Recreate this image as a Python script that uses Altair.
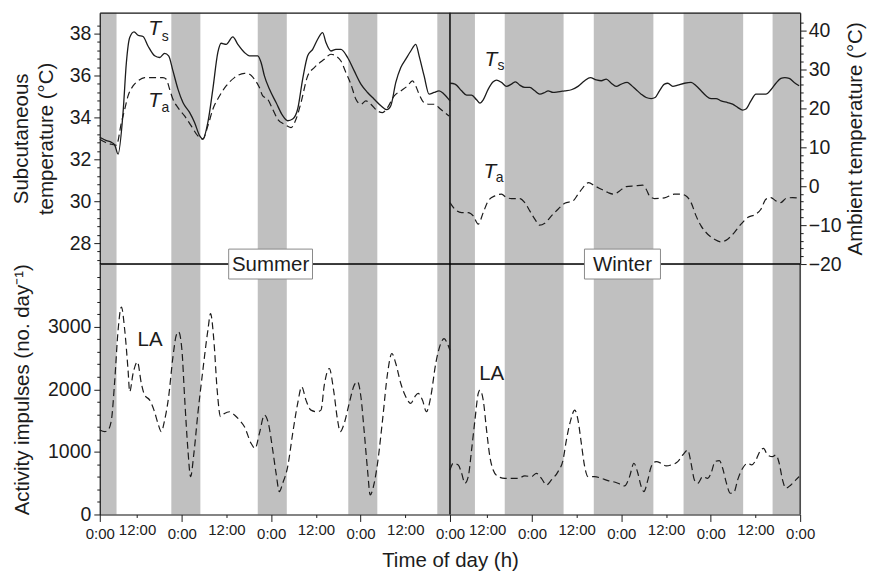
import altair as alt
import pandas as pd

FONT = "Liberation Sans"
INK = "#1c1c1c"
BAND = "#c0c0c0"
W, H_TOP, H_BOT = 702, 252, 251

# ---------------- data (hours on one joined time axis: summer 0-94 h, winter 94-188 h)
night_start = [0, 19.2, 42.4, 66.7, 90.6, 94, 108.7, 132.6, 156.7, 180.6]
night_end = [4.5, 27.0, 50.2, 74.5, 94, 100.7, 124.5, 148.6, 172.7, 188]

ts_summer_h = [0, 1.79, 3.12, 4.02, 4.91, 6.25, 7.14, 8.03, 9.2, 10.27,
               11.61, 12.94, 14.73, 16.07, 17.41, 18.48, 19.64, 20.98, 22.32, 24.1,
               25.44, 26.78, 27.67, 29.01, 30.35, 31.69, 32.58, 33.92, 35.71, 37.05,
               38.83, 40.17, 42.4, 43.3, 44.19, 45.53, 47.32, 49.1, 50.44, 51.78,
               53.12, 54.46, 55.8, 57.14, 58.48, 59.82, 60.71, 62.05, 63.39, 64.73,
               66.52, 68.3, 70.09, 71.87, 73.66, 75.45, 77.05, 78.12, 79.46, 80.8,
               82.14, 83.48, 84.82, 85.72, 87.06, 88.4, 89.74, 91.08, 92.42, 94.0]
ts_summer = [33.05, 32.89, 32.81, 32.68, 32.25, 34.24, 36.62, 37.81, 38.08, 37.92,
             37.86, 37.41, 36.94, 36.86, 37.06, 36.94, 36.22, 35.35, 34.71, 34.24,
             33.76, 33.13, 32.97, 33.76, 35.35, 37.1, 37.54, 37.49, 37.84, 37.49,
             37.1, 36.94, 36.94, 36.62, 35.98, 35.35, 34.71, 34.08, 33.84, 33.92,
             34.4, 35.83, 36.94, 37.25, 37.73, 38.05, 37.57, 37.17, 37.25, 37.25,
             36.86, 36.22, 35.59, 35.19, 34.87, 34.56, 34.37, 34.56, 35.67, 36.38,
             36.78, 37.17, 37.49, 36.94, 35.98, 35.11, 35.19, 35.27, 35.11, 34.79]

ts_winter_h = [94.0, 95.34, 97.13, 98.47, 99.8, 101.14, 102.04, 102.93, 104.27, 105.6,
               106.5, 107.84, 109.18, 110.52, 111.59, 112.75, 114.09, 115.43, 116.77, 118.1,
               119.44, 120.34, 121.67, 123.01, 124.8, 126.58, 128.37, 130.16, 131.67, 133.28,
               134.62, 135.96, 137.3, 138.64, 139.98, 141.58, 142.65, 143.99, 145.33, 146.67,
               148.01, 149.08, 150.24, 151.58, 152.47, 153.81, 155.15, 156.94, 158.72, 160.06,
               161.4, 162.74, 164.08, 165.42, 166.76, 168.54, 169.88, 171.22, 172.56, 173.45,
               174.79, 176.13, 177.47, 178.81, 180.15, 181.49, 182.82, 183.9, 185.06, 186.4,
               187.73]
ts_winter = [35.63, 35.59, 35.27, 35.06, 35.06, 34.84, 34.68, 34.84, 35.35, 35.7,
             35.78, 35.67, 35.48, 35.59, 35.7, 35.54, 35.43, 35.43, 35.27, 35.11,
             35.19, 35.27, 35.19, 35.22, 35.27, 35.32, 35.48, 35.75, 35.9, 35.79,
             35.75, 35.83, 35.63, 35.48, 35.59, 35.67, 35.54, 35.32, 35.11, 34.95,
             34.9, 34.95, 35.27, 35.59, 35.63, 35.48, 35.54, 35.63, 35.67, 35.51,
             35.27, 35.03, 34.9, 34.9, 34.79, 34.71, 34.63, 34.48, 34.35, 34.4,
             34.79, 35.11, 35.11, 35.11, 35.32, 35.63, 35.86, 35.9, 35.86, 35.67,
             35.51]

ta_summer_h = [0, 1.34, 3.12, 4.46, 5.8, 6.7, 7.59, 8.93, 10.27, 12.05,
               14.28, 16.96, 17.85, 18.75, 19.64, 20.98, 22.76, 24.55, 26.33, 27.67,
               29.01, 30.35, 32.14, 33.92, 36.15, 38.83, 40.17, 41.51, 42.85, 43.74,
               45.08, 46.42, 47.76, 49.54, 51.33, 52.67, 54.01, 55.8, 57.58, 60.26,
               62.05, 63.39, 64.73, 66.07, 67.41, 68.75, 70.09, 71.43, 72.77, 74.56,
               75.9, 77.24, 79.03, 80.8, 82.6, 83.92, 84.82, 85.72, 87.06, 88.4,
               89.74, 91.5, 93.74]
ta_summer = [12.02, 11.3, 10.74, 10.5, 16.3, 19.71, 23.13, 25.7, 26.98, 27.83,
             27.83, 27.83, 27.41, 24.84, 22.28, 20.14, 18.0, 15.44, 12.88, 12.02,
             15.44, 19.71, 23.13, 25.7, 27.83, 28.94, 28.69, 27.41, 25.27, 23.13,
             22.28, 19.71, 17.15, 15.87, 15.01, 17.15, 21.42, 28.26, 30.4, 32.53,
             33.82, 33.39, 32.11, 29.12, 26.12, 22.28, 21.0, 21.85, 21.0, 19.29,
             18.85, 20.14, 23.13, 24.41, 25.7, 26.98, 25.7, 23.56, 21.42, 21.0,
             21.0, 19.71, 18.0]

ta_winter_h = [94.0, 95.34, 97.13, 98.91, 100.25, 101.59, 102.93, 104.27, 106.05, 107.84,
               109.18, 110.52, 112.75, 114.09, 115.43, 116.77, 118.1, 119.44, 121.23, 123.01,
               124.8, 127.03, 128.37, 129.71, 131.23, 132.83, 134.62, 136.4, 138.01, 139.53,
               141.31, 143.55, 145.78, 146.67, 147.56, 148.9, 151.58, 154.26, 156.04, 157.38,
               158.72, 160.06, 161.4, 163.18, 164.97, 166.76, 168.54, 170.33, 172.11, 173.9,
               176.13, 177.47, 178.81, 180.15, 181.49, 182.82, 184.16, 185.95, 187.73]
ta_winter = [-4.22, -5.93, -6.78, -6.78, -7.64, -9.77, -6.78, -3.79, -2.51, -2.08,
             -2.94, -3.19, -3.19, -4.22, -6.35, -8.49, -10.03, -9.52, -7.64, -5.93,
             -4.39, -3.79, -2.08, -0.37, 0.91, 0.06, -0.8, -1.65, -2.08, -1.23,
             -0.12, 0.06, 0.23, -0.8, -2.51, -3.19, -3.02, -2.08, -2.08, -2.51,
             -4.22, -7.64, -10.2, -12.34, -13.62, -14.3, -13.62, -11.91, -9.77, -8.06,
             -7.21, -5.93, -3.36, -2.94, -3.79, -4.22, -3.19, -2.94, -3.11]

la_summer_h = [0, 1.34, 2.23, 3.12, 4.02, 4.91, 5.8, 6.7, 7.59, 8.03,
               8.93, 10.09, 11.16, 12.05, 13.39, 14.55, 15.62, 16.51, 17.41, 18.48,
               19.64, 20.53, 21.16, 22.05, 22.76, 23.66, 24.37, 25.26, 26.33, 27.67,
               29.01, 29.73, 30.62, 31.51, 32.41, 33.48, 34.82, 36.15, 37.49, 38.83,
               40.62, 41.69, 42.85, 44.19, 45.26, 46.42, 47.32, 48.21, 49.1, 50.44,
               51.78, 53.12, 54.19, 55.35, 56.69, 58.3, 59.37, 60.26, 61.6, 62.76,
               63.83, 64.54, 65.61, 66.95, 68.3, 69.19, 70.09, 70.98, 71.87, 72.59,
               73.66, 74.56, 75.9, 77.24, 78.4, 79.46, 80.8, 82.14, 83.48, 84.55,
               85.45, 86.61, 87.68, 88.84, 90.18, 91.52, 92.42, 93.31, 94.0]
la_summer = [1349, 1322, 1349, 1508, 2146, 2942, 3314, 2942, 2305, 1960,
             2252, 2438, 2092, 1906, 1827, 1667, 1455, 1322, 1508, 1880,
             2517, 2863, 2916, 2624, 1880, 1030, 605, 977, 1614, 2305,
             2942, 3208, 2783, 1986, 1561, 1614, 1641, 1588, 1508, 1402,
             1136, 1057, 1296, 1588, 1455, 1030, 658, 366, 499, 764,
             1296, 1774, 2039, 1827, 1667, 1641, 1667, 2066, 2332, 1986,
             1508, 1322, 1455, 1774, 2066, 2119, 1880, 1322, 711, 313,
             499, 818, 1508, 2252, 2571, 2411, 2092, 1880, 1774, 1880,
             1933, 1827, 1641, 1880, 2411, 2730, 2810, 2730, 2624]

la_winter_h = [94.0, 94.89, 96.23, 97.13, 98.02, 98.91, 99.8, 100.7, 101.59, 102.04,
               102.93, 103.82, 104.71, 105.6, 106.95, 108.73, 110.52, 112.3, 114.09, 115.87,
               117.21, 118.55, 119.89, 121.23, 123.01, 124.35, 125.25, 126.41, 127.48, 128.37,
               129.26, 130.16, 131.05, 132.83, 134.62, 136.4, 137.74, 139.08, 140.87, 142.21,
               143.37, 144.44, 145.33, 146.05, 147.12, 148.01, 149.35, 150.69, 152.03, 153.37,
               155.15, 156.49, 157.83, 158.72, 159.61, 160.51, 161.85, 163.18, 164.08, 165.15,
               166.31, 167.2, 168.1, 169.26, 170.33, 171.22, 172.56, 173.9, 174.97, 176.13,
               177.29, 178.18, 179.25, 180.59, 181.49, 182.38, 183.27, 184.16, 185.5, 186.84,
               187.73]
la_winter = [711, 818, 791, 658, 499, 605, 1030, 1508, 1933, 1986,
             1827, 1349, 924, 711, 605, 578, 578, 578, 616, 605,
             658, 578, 472, 552, 685, 871, 1189, 1508, 1667, 1508,
             1136, 764, 605, 605, 578, 541, 525, 499, 456, 605,
             818, 658, 446, 366, 552, 764, 844, 818, 775, 791,
             844, 950, 1030, 818, 552, 499, 605, 578, 658, 844,
             861, 738, 525, 339, 366, 552, 738, 818, 791, 871,
             1019, 1057, 950, 924, 950, 818, 552, 419, 472, 552,
             605]

# tick positions / labels
x_major = [0, 22, 46, 70, 94, 116, 140, 164, 188]        # "0:00"
x_minor = [10, 34, 58, 82, 104, 128, 152, 176]           # "12:00"
ts_ticks = [round(27.2 + 0.4 * i, 1) for i in range(29)]
ta_ticks = list(range(-20, 43, 2))
la_ticks = list(range(0, 4000, 200))

# annotations
t_x = [14.7, 14.7, 105.0, 104.7]
t_y = [38.21, 34.8, 36.74, 31.38]
sub_x = [17.6, 17.6, 107.7, 107.3]
sub_y = [37.85, 34.45, 36.45, 31.1]
sub_text = ["s", "a", "s", "a"]
la_lab_x = [13.5, 105.2]
la_lab_y = [2786, 2244]
season_text = ["Summer", "Winter"]
season_x0 = [34.6, 130.1]
season_x1 = [57.1, 150.5]


def series(h, v, season):
    return pd.DataFrame({"hour": h, "value": v, "season": season})


ts_df = pd.concat([series(ts_summer_h, ts_summer, "Summer"),
                   series(ts_winter_h, ts_winter, "Winter")])
ta_df = pd.concat([series(ta_summer_h, ta_summer, "Summer"),
                   series(ta_winter_h, ta_winter, "Winter")])
la_df = pd.concat([series(la_summer_h, la_summer, "Summer"),
                   series(la_winter_h, la_winter, "Winter")])
nights_df = pd.DataFrame({"start": night_start, "end": night_end})
t_df = pd.DataFrame({"x": t_x, "y": t_y, "text": ["T"] * 4})
sub_df = pd.DataFrame({"x": sub_x, "y": sub_y, "text": sub_text})
la_lab_df = pd.DataFrame({"x": la_lab_x, "y": la_lab_y, "text": ["LA", "LA"]})
season_df = pd.DataFrame({"text": season_text, "x0": season_x0, "x1": season_x1,
                          "xc": [(a + b) / 2 for a, b in zip(season_x0, season_x1)]})
one = pd.DataFrame({"a": [0]})

# ---------------- scales & axes
x_scale = alt.Scale(domain=[0, 188], nice=False, zero=False)
ts_scale = alt.Scale(domain=[27, 39], nice=False, zero=False)
ta_scale = alt.Scale(domain=[-20, 44.5], nice=False, zero=False)
la_scale = alt.Scale(domain=[0, 4000], nice=False, zero=False)

common = dict(grid=False, labelFont=FONT, labelColor=INK, titleFont=FONT,
              titleColor=INK, titleFontWeight="normal", domainColor=INK,
              tickColor=INK, tickWidth=1, domainWidth=1.2, zindex=2,
              labelOverlap=False, labelFlush=False)


def y_axis(values, test, title, orient, **kw):
    return alt.Axis(values=values, orient=orient, title=title,
                    labelExpr=f"({test}) ? format(datum.value, 'd') : ''",
                    tickSize={"condition": {"test": test, "value": 6}, "value": 3},
                    labelFontSize=19.5, titleFontSize=20.5,
                    **common, **kw)


ts_axis = y_axis(ts_ticks, "abs(datum.value % 2) < 0.01", ["Subcutaneous", "temperature (°C)"],
                 "left", labelPadding=3, titlePadding=13, titleLineHeight=24.5)
ta_axis = y_axis(ta_ticks, "datum.value % 10 == 0", "Ambient temperature (°C)",
                 "right", labelPadding=2, titlePadding=4, titleAngle=270, titleBaseline="top")
la_axis = y_axis(la_ticks, "datum.value % 1000 == 0", "Activity impulses (no. day⁻¹)",
                 "left", labelPadding=3, titlePadding=15)

minor_list = ",".join(str(v) for v in x_minor)
minor_test = f"indexof([{minor_list}], datum.value) >= 0"
x_axis_bottom = alt.Axis(values=sorted(x_major + x_minor), orient="bottom",
                         title="Time of day (h)",
                         labelExpr=f"({minor_test}) ? '12:00' : '0:00'",
                         tickSize={"condition": {"test": minor_test, "value": 3}, "value": 7},
                         labelFontSize=15, titleFontSize=20.5, labelPadding=5,
                         titlePadding=9, **common)
x_axis_top = alt.Axis(orient="top", labels=False, ticks=False, title=None,
                      grid=False, domainColor=INK, domainWidth=1.2, zindex=2)


def xt(field):
    return alt.X(field, type="quantitative", scale=x_scale, axis=x_axis_top)


def xb(field):
    return alt.X(field, type="quantitative", scale=x_scale, axis=x_axis_bottom)


def y_ts(field):
    return alt.Y(field, type="quantitative", scale=ts_scale, axis=None)


# ---------------- top panel (temperatures) - flat layer, each y scale given the same domain
bands_top = alt.Chart(nights_df).mark_rect(color=BAND).encode(x=xt("start"), x2="end")
div_top = alt.Chart(one).mark_rule(color=INK, strokeWidth=1.7).encode(x=alt.datum(94))
ts_line = alt.Chart(ts_df).mark_line(color=INK, strokeWidth=1.3, interpolate="monotone").encode(
    x=xt("hour"), y=alt.Y("value:Q", scale=ts_scale, axis=ts_axis), detail="season:N")
t_text = alt.Chart(t_df).mark_text(font=FONT, fontSize=21, fontStyle="italic", color=INK,
                                   align="center", baseline="middle").encode(
    x=xt("x"), y=y_ts("y"), text="text:N")
sub_txt = alt.Chart(sub_df).mark_text(font=FONT, fontSize=14, color=INK,
                                      align="center", baseline="middle").encode(
    x=xt("x"), y=y_ts("y"), text="text:N")
ta_line = alt.Chart(ta_df).mark_line(color=INK, strokeWidth=1.2, strokeDash=[7, 4],
                                     interpolate="monotone").encode(
    x=xt("hour"), y=alt.Y("value:Q", scale=ta_scale, axis=ta_axis), detail="season:N")

top = alt.layer(bands_top, div_top, ts_line, ta_line, t_text, sub_txt).resolve_scale(
    y="independent").properties(width=W, height=H_TOP)

# ---------------- bottom panel (activity)
bands_bot = alt.Chart(nights_df).mark_rect(color=BAND).encode(x=xb("start"), x2="end")
div_bot = alt.Chart(one).mark_rule(color=INK, strokeWidth=1.7).encode(x=alt.datum(94))
right_rule = alt.Chart(one).mark_rule(color=INK, strokeWidth=1.2).encode(x=alt.datum(188))
mid_rule = alt.Chart(one).mark_rule(color="black", strokeWidth=1.6).encode(y=alt.value(0))
la_line = alt.Chart(la_df).mark_line(color=INK, strokeWidth=1.2, strokeDash=[7, 4],
                                     interpolate="monotone").encode(
    x=xb("hour"), y=alt.Y("value:Q", scale=la_scale, axis=la_axis), detail="season:N")
la_text = alt.Chart(la_lab_df).mark_text(font=FONT, fontSize=20.5, color=INK,
                                         align="center", baseline="middle").encode(
    x=xb("x"), y=alt.Y("y:Q", scale=la_scale, axis=la_axis), text="text:N")
box = alt.Chart(season_df).mark_rect(fill="white", stroke="#8a8a8a", strokeWidth=1).encode(
    x=xb("x0"), x2="x1", y=alt.value(-15), y2=alt.value(15))
box_text = alt.Chart(season_df).mark_text(font=FONT, fontSize=20.5, color=INK,
                                          align="center", baseline="middle").encode(
    x=xb("xc"), y=alt.value(1), text="text:N")

bottom = alt.layer(bands_bot, div_bot, right_rule, mid_rule, la_line, la_text, box,
                   box_text).properties(width=W, height=H_BOT)

chart = alt.vconcat(top, bottom, spacing=0, bounds="flush").properties(
    padding={"left": 3, "top": 2, "right": 0, "bottom": 0},
    background="white",
).configure_view(stroke=None).configure(font=FONT)

chart.save("out.html", embed_options={"renderer": "svg", "actions": False})
